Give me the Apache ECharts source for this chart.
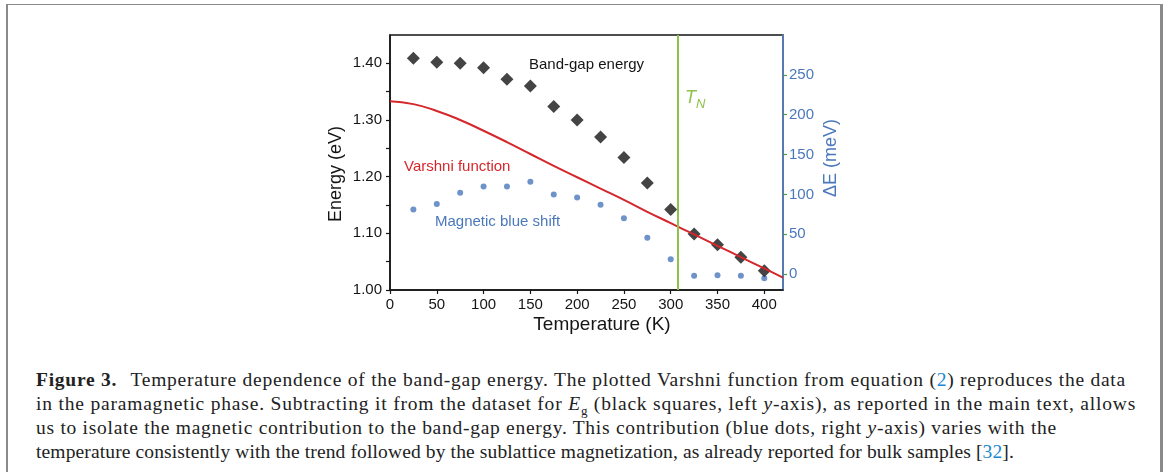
<!DOCTYPE html>
<html>
<head>
<meta charset="utf-8">
<script src="https://cdn.jsdelivr.net/npm/echarts@6/dist/echarts.min.js"></script>
<style>
  html, body { margin: 0; padding: 0; background: #fff; }
  .page { position: relative; width: 1174px; height: 472px; overflow: hidden; }
  .frame {
    position: absolute; left: 6px; top: 4px; width: 1152px; height: 480px;
    border-left: 2px solid #8a8a8a; border-top: 1px solid #8a8a8a; border-right: 3px solid #8a8a8a;
  }
  #chart { position: absolute; left: 0; top: 0; width: 1174px; height: 340px; }
  .caption {
    position: absolute; left: 36px; top: 368px; width: 1120px;
    font-family: "Liberation Serif", "DejaVu Serif", serif; font-size: 19.5px; line-height: 24px; color: #222;
    white-space: nowrap;
  }
  .caption .line { display: inline-block; }
  .caption b { font-weight: bold; margin-right: 8px; }
  .caption .ref { color: #1a87d0; }
  .caption sub { font-size: 13px; line-height: 0; }
</style>
</head>
<body>
<div class="page">
  <div class="frame"></div>
  <div id="chart"></div>
  <div class="caption">
    <span class="line"><b>Figure 3.</b> Temperature dependence of the band-gap energy. The plotted Varshni function from equation (<span class="ref">2</span>) reproduces the data</span><br>
    <span class="line">in the paramagnetic phase. Subtracting it from the dataset for <i>E</i><sub>g</sub> (black squares, left <i>y</i>-axis), as reported in the main text, allows</span><br>
    <span class="line">us to isolate the magnetic contribution to the band-gap energy. This contribution (blue dots, right <i>y</i>-axis) varies with the</span><br>
    <span class="line">temperature consistently with the trend followed by the sublattice magnetization, as already reported for bulk samples [<span class="ref">32</span>].</span>
  </div>
</div>
<script>
// values
const temps = [25, 50, 75, 100, 125, 150, 175, 200, 225, 250, 275, 300, 325, 350, 375, 400]
const bandGap = [1.409, 1.402, 1.400, 1.392, 1.372, 1.360, 1.324, 1.300, 1.270, 1.234, 1.189, 1.142, 1.099, 1.080, 1.058, 1.034]
const blueShift = [81, 88, 102, 110, 110, 116, 100, 96, 87, 70, 45.5, 18.6, -2, -1.6, -2, -5.4]
const varshniT = [0, 25, 50, 75, 100, 125, 150, 175, 200, 225, 250, 275, 300, 325, 350, 375, 400, 420]
const varshniE = [1.333, 1.328, 1.316, 1.300, 1.281, 1.261, 1.240, 1.219, 1.199, 1.179, 1.159, 1.138, 1.118, 1.098, 1.078, 1.058, 1.038, 1.022]
const tN = 308
const xTicks = [0, 50, 100, 150, 200, 250, 300, 350, 400]
const energyTicks = [1.00, 1.05, 1.10, 1.15, 1.20, 1.25, 1.30, 1.35, 1.40]
const energyLabels = [1.00, 1.10, 1.20, 1.30, 1.40]
const deltaTicks = [0, 50, 100, 150, 200, 250]

const font = '"Liberation Sans", Arial, sans-serif'
const dark = '#151515'
const blue = '#4a78bb'
const green = '#8ec24a'
const red = '#d5262b'

// stretch the caption lines to the widths they have in the figure
const lineWidths = [1090, 1100, 1021, 978]
document.querySelectorAll('.caption .line').forEach((el, i) => {
  const w = el.getBoundingClientRect().width
  el.style.letterSpacing = ((lineWidths[i] - w) / el.textContent.length).toFixed(3) + 'px'
})

const chart = echarts.init(document.getElementById('chart'))

chart.setOption({
  animation: false,
  grid: {
    left: 390, top: 35, width: 393, height: 255,
    show: true, borderColor: dark, borderWidth: 1.5, backgroundColor: 'transparent'
  },
  xAxis: {
    type: 'value', min: 0, max: 420,
    axisLine: { onZero: false, lineStyle: { color: dark, width: 1.5 } },
    axisTick: { show: true, length: 4, customValues: xTicks, lineStyle: { color: dark, width: 1.2 } },
    axisLabel: { customValues: xTicks, margin: 7, color: dark, fontSize: 15, fontFamily: font },
    splitLine: { show: false }
  },
  yAxis: [
    {
      type: 'value', min: 1.0, max: 1.45, position: 'left',
      axisLine: { show: true, onZero: false, lineStyle: { color: dark, width: 1.5 } },
      axisTick: { show: true, length: 4, customValues: energyTicks, lineStyle: { color: dark, width: 1.2 } },
      axisLabel: {
        customValues: energyLabels, margin: 8, color: dark, fontSize: 15, fontFamily: font,
        formatter: v => v.toFixed(2)
      },
      splitLine: { show: false }
    },
    {
      type: 'value', min: -20, max: 300, position: 'right',
      axisLine: { show: true, onZero: false, lineStyle: { color: '#5878b0', width: 2 } },
      axisTick: { show: true, length: 4, customValues: deltaTicks, lineStyle: { color: '#4f9a45', width: 1.2 } },
      axisLabel: { customValues: deltaTicks, margin: 6, color: blue, fontSize: 15, fontFamily: font },
      splitLine: { show: false }
    }
  ],
  series: [
    {
      name: 'Magnetic blue shift',
      type: 'scatter',
      yAxisIndex: 1,
      symbol: 'circle',
      symbolSize: 6,
      itemStyle: { color: blue },
      data: temps.map((t, i) => [t, blueShift[i]]),
      z: 2
    },
    {
      name: 'Band-gap energy',
      type: 'scatter',
      yAxisIndex: 0,
      symbol: 'diamond',
      symbolSize: 13,
      itemStyle: { color: dark },
      data: temps.map((t, i) => [t, bandGap[i]]),
      z: 3
    },
    {
      name: 'Varshni function',
      type: 'line',
      yAxisIndex: 0,
      smooth: true,
      showSymbol: false,
      lineStyle: { color: red, width: 2 },
      data: varshniT.map((t, i) => [t, varshniE[i]]),
      z: 4,
      markLine: {
        silent: true,
        symbol: 'none',
        label: { show: false },
        lineStyle: { color: green, width: 2, type: 'solid' },
        data: [{ xAxis: tN }]
      }
    }
  ],
  graphic: [
    { type: 'text', x: 529, y: 65, style: { text: 'Band-gap energy', fill: dark, font: '15px ' + font, verticalAlign: 'middle' } },
    { type: 'text', x: 404, y: 167, style: { text: 'Varshni function', fill: red, font: '15px ' + font, verticalAlign: 'middle' } },
    { type: 'text', x: 435, y: 222, style: { text: 'Magnetic blue shift', fill: blue, font: '15px ' + font, verticalAlign: 'middle' } },
    {
      type: 'text', x: 685, y: 85,
      style: {
        text: '{t|T}{n|N}',
        rich: {
          t: { fill: green, fontSize: 18, fontStyle: 'italic', fontFamily: font, lineHeight: 22, verticalAlign: 'bottom' },
          n: { fill: green, fontSize: 13, fontStyle: 'italic', fontFamily: font, lineHeight: 22, verticalAlign: 'bottom', padding: [0, 0, -4, 0] }
        }
      }
    },
    { type: 'text', x: 336, y: 174, rotation: Math.PI / 2, style: { text: 'Energy (eV)', fill: dark, font: '18px ' + font, align: 'center', verticalAlign: 'middle' } },
    { type: 'text', x: 602, y: 325, style: { text: 'Temperature (K)', fill: dark, font: '19px ' + font, align: 'center', verticalAlign: 'middle' } },
    { type: 'text', x: 831, y: 158, rotation: Math.PI / 2, style: { text: 'ΔE (meV)', fill: blue, font: '18px ' + font, align: 'center', verticalAlign: 'middle' } }
  ]
})
</script>
</body>
</html>
